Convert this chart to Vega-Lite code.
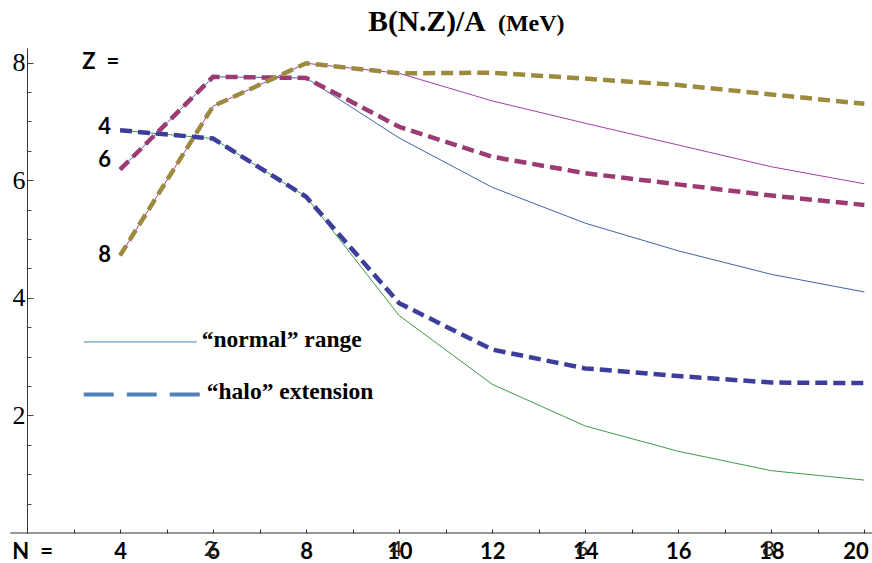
{
  "$schema": "https://vega.github.io/schema/vega-lite/v6.json",
  "width": 842,
  "height": 485,
  "autosize": {"type": "none"},
  "padding": {"left": 27, "top": 48, "right": 3, "bottom": 30},
  "background": "white",
  "config": {"view": {"stroke": null}},
  "resolve": {"axis": {"y": "independent"}},
  "datasets": {
    "curves": [
      {"series": "Z4 normal", "N": 4, "v": 6.85}, {"series": "Z4 normal", "N": 6, "v": 6.71}, {"series": "Z4 normal", "N": 8, "v": 5.72},
      {"series": "Z4 normal", "N": 10, "v": 3.70}, {"series": "Z4 normal", "N": 12, "v": 2.53}, {"series": "Z4 normal", "N": 14, "v": 1.82},
      {"series": "Z4 normal", "N": 16, "v": 1.39}, {"series": "Z4 normal", "N": 18, "v": 1.06}, {"series": "Z4 normal", "N": 20, "v": 0.90},
      {"series": "Z6 normal", "N": 4, "v": 6.18}, {"series": "Z6 normal", "N": 6, "v": 7.76}, {"series": "Z6 normal", "N": 8, "v": 7.74},
      {"series": "Z6 normal", "N": 10, "v": 6.72}, {"series": "Z6 normal", "N": 12, "v": 5.88}, {"series": "Z6 normal", "N": 14, "v": 5.27},
      {"series": "Z6 normal", "N": 16, "v": 4.80}, {"series": "Z6 normal", "N": 18, "v": 4.40}, {"series": "Z6 normal", "N": 20, "v": 4.10},
      {"series": "Z8 normal", "N": 4, "v": 4.72}, {"series": "Z8 normal", "N": 6, "v": 7.26}, {"series": "Z8 normal", "N": 8, "v": 7.99},
      {"series": "Z8 normal", "N": 10, "v": 7.82}, {"series": "Z8 normal", "N": 12, "v": 7.35}, {"series": "Z8 normal", "N": 14, "v": 6.97},
      {"series": "Z8 normal", "N": 16, "v": 6.60}, {"series": "Z8 normal", "N": 18, "v": 6.23}, {"series": "Z8 normal", "N": 20, "v": 5.94},
      {"series": "Z4 halo", "N": 4, "v": 6.85}, {"series": "Z4 halo", "N": 6, "v": 6.71}, {"series": "Z4 halo", "N": 8, "v": 5.72},
      {"series": "Z4 halo", "N": 10, "v": 3.91}, {"series": "Z4 halo", "N": 12, "v": 3.12}, {"series": "Z4 halo", "N": 14, "v": 2.80},
      {"series": "Z4 halo", "N": 16, "v": 2.67}, {"series": "Z4 halo", "N": 18, "v": 2.56}, {"series": "Z4 halo", "N": 20, "v": 2.55},
      {"series": "Z6 halo", "N": 4, "v": 6.18}, {"series": "Z6 halo", "N": 6, "v": 7.76}, {"series": "Z6 halo", "N": 8, "v": 7.74},
      {"series": "Z6 halo", "N": 10, "v": 6.91}, {"series": "Z6 halo", "N": 12, "v": 6.40}, {"series": "Z6 halo", "N": 14, "v": 6.12},
      {"series": "Z6 halo", "N": 16, "v": 5.93}, {"series": "Z6 halo", "N": 18, "v": 5.74}, {"series": "Z6 halo", "N": 20, "v": 5.58},
      {"series": "Z8 halo", "N": 4, "v": 4.72}, {"series": "Z8 halo", "N": 6, "v": 7.26}, {"series": "Z8 halo", "N": 8, "v": 7.99},
      {"series": "Z8 halo", "N": 10, "v": 7.82}, {"series": "Z8 halo", "N": 12, "v": 7.83}, {"series": "Z8 halo", "N": 14, "v": 7.73},
      {"series": "Z8 halo", "N": 16, "v": 7.62}, {"series": "Z8 halo", "N": 18, "v": 7.46}, {"series": "Z8 halo", "N": 20, "v": 7.30}
    ],
    "legendlines": [
      {"kind": "normal", "N": 3.22, "v": 3.25}, {"kind": "normal", "N": 5.65, "v": 3.25},
      {"kind": "halo", "N": 3.22, "v": 2.354}, {"kind": "halo", "N": 5.80, "v": 2.354}
    ],
    "axisline": [{"a": 1.64, "b": 20.2, "y": 0}],
    "legendtext": [
      {"label": "“normal” range", "N": 5.757, "v": 3.16},
      {"label": "“halo” extension", "N": 5.865, "v": 2.274}
    ],
    "notes": [
      {"label": "Z\u2002=", "N": 3.587, "v": 8.015},
      {"label": "4", "N": 3.671, "v": 6.908},
      {"label": "6", "N": 3.671, "v": 6.346},
      {"label": "8", "N": 3.671, "v": 4.727},
      {"label": "N\u2002=", "N": 2.123, "v": -0.315}
    ],
    "ghost": [
      {"label": "2", "N": 6, "v": -0.315},
      {"label": "4", "N": 10, "v": -0.315},
      {"label": "6", "N": 14, "v": -0.315},
      {"label": "8", "N": 18, "v": -0.315}
    ],
    "title": [
      {"label": "B(N.Z)/A", "N": 10.596, "v": 8.543}
    ],
    "unit": [
      {"label": "(MeV)", "N": 12.123, "v": 8.543}
    ]
  },
  "layer": [
    {
      "data": {"name": "curves"},
      "transform": [{"filter": "indexof(datum.series, 'normal') >= 0"}],
      "mark": {"type": "line", "strokeWidth": 1, "clip": false},
      "encoding": {
        "x": {
          "field": "N", "type": "quantitative",
          "scale": {"domain": [2, 20.1], "nice": false, "zero": false},
          "axis": {
            "title": null, "domain": false,
            "values": [3,4,5,6,7,8,9,10,11,12,13,14,15,16,17,18,19,20],
            "labelExpr": "datum.value % 2 == 0 ? datum.label : ''",
            "tickSize": -4, "tickColor": "#333", "tickWidth": 1,
            "labelFont": "Lato", "labelFontWeight": "bold", "labelFontSize": 22,
            "labelColor": "black", "labelBaseline": "middle", "labelPadding": 22,
            "labelFlush": 10, "labelFlushOffset": 4, "labelOverlap": false, "grid": false
          }
        },
        "y": {
          "field": "v", "type": "quantitative",
          "scale": {"domain": [0, 8.25], "nice": false, "zero": false},
          "axis": {
            "title": null, "orient": "left",
            "values": [2, 4, 6, 8],
            "tickSize": -6, "tickColor": "#444", "domainColor": "#333",
            "labelFont": "Liberation Serif", "labelFontSize": 26, "labelColor": "black",
            "labelPadding": 8, "labelOverlap": false, "grid": false, "labelFlush": false
          }
        },
        "color": {
          "field": "series", "type": "nominal", "legend": null,
          "scale": {
            "domain": ["Z4 normal", "Z6 normal", "Z8 normal", "Z4 halo", "Z6 halo", "Z8 halo"],
            "range": ["#3e9b4a", "#4262aa", "#a43ea4", "#3d3d9b", "#9c3a72", "#9c8b3e"]
          }
        },
        "detail": {"field": "series"}
      }
    },
    {
      "data": {"name": "curves"},
      "transform": [{"filter": "indexof(datum.series, 'halo') >= 0"}],
      "mark": {"type": "line", "strokeWidth": 4.5, "strokeDash": [12, 6], "clip": false},
      "encoding": {
        "x": {"field": "N", "type": "quantitative"},
        "y": {
          "field": "v", "type": "quantitative",
          "axis": {
            "title": null, "orient": "left", "domain": false, "labels": false,
            "values": [0.5,1,1.5,2.5,3,3.5,4.5,5,5.5,6.5,7,7.5],
            "tickSize": -4, "tickColor": "#444", "grid": false
          }
        },
        "color": {"field": "series", "type": "nominal", "legend": null},
        "detail": {"field": "series"}
      }
    },
    {
      "data": {"name": "axisline"},
      "mark": {"type": "rule", "color": "#333", "strokeWidth": 1},
      "encoding": {
        "x": {"field": "a", "type": "quantitative"},
        "x2": {"field": "b"},
        "y": {"field": "y", "type": "quantitative", "axis": null}
      }
    },
    {
      "data": {"name": "legendlines"},
      "transform": [{"filter": "datum.kind == 'normal'"}],
      "mark": {"type": "line", "strokeWidth": 1, "color": "#4a7ebb"},
      "encoding": {
        "x": {"field": "N", "type": "quantitative"},
        "y": {"field": "v", "type": "quantitative", "axis": null}
      }
    },
    {
      "data": {"name": "legendlines"},
      "transform": [{"filter": "datum.kind == 'halo'"}],
      "mark": {"type": "line", "strokeWidth": 4, "strokeDash": [30, 13], "color": "#4f81bd"},
      "encoding": {
        "x": {"field": "N", "type": "quantitative"},
        "y": {"field": "v", "type": "quantitative", "axis": null}
      }
    },
    {
      "data": {"name": "legendtext"},
      "mark": {"type": "text", "font": "Liberation Serif", "fontWeight": "bold", "fontSize": 23.5, "align": "left", "baseline": "alphabetic", "color": "black"},
      "encoding": {
        "x": {"field": "N", "type": "quantitative"},
        "y": {"field": "v", "type": "quantitative", "axis": null},
        "text": {"field": "label"}
      }
    },
    {
      "data": {"name": "ghost"},
      "mark": {"type": "text", "font": "Lato", "fontWeight": "normal", "fontSize": 22, "align": "center", "baseline": "middle", "color": "#222", "dx": -3, "dy": -3},
      "encoding": {
        "x": {"field": "N", "type": "quantitative"},
        "y": {"field": "v", "type": "quantitative", "axis": null},
        "text": {"field": "label"}
      }
    },
    {
      "data": {"name": "notes"},
      "mark": {"type": "text", "font": "Lato", "fontWeight": "bold", "fontSize": 22, "align": "center", "baseline": "middle", "color": "black"},
      "encoding": {
        "x": {"field": "N", "type": "quantitative"},
        "y": {"field": "v", "type": "quantitative", "axis": null},
        "text": {"field": "label"}
      }
    },
    {
      "data": {"name": "title"},
      "mark": {"type": "text", "font": "Liberation Serif", "fontWeight": "bold", "fontSize": 29.5, "align": "center", "baseline": "alphabetic", "color": "black"},
      "encoding": {
        "x": {"field": "N", "type": "quantitative"},
        "y": {"field": "v", "type": "quantitative", "axis": null},
        "text": {"field": "label"}
      }
    },
    {
      "data": {"name": "unit"},
      "mark": {"type": "text", "font": "Liberation Serif", "fontWeight": "bold", "fontSize": 24, "align": "left", "baseline": "alphabetic", "color": "black"},
      "encoding": {
        "x": {"field": "N", "type": "quantitative"},
        "y": {"field": "v", "type": "quantitative", "axis": null},
        "text": {"field": "label"}
      }
    }
  ]
}
